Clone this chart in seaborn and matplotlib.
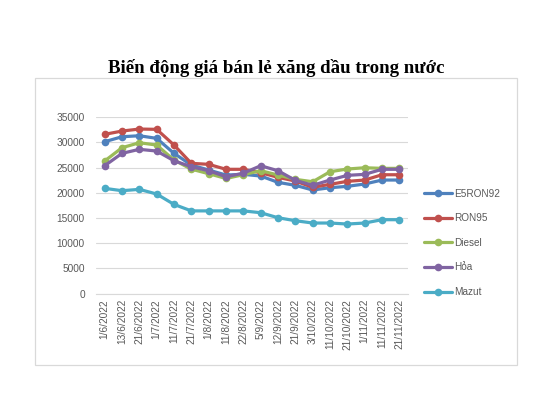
import pandas as pd
import seaborn as sns
import matplotlib.pyplot as plt
from matplotlib.patches import Rectangle

# Dữ liệu (đồng/lít)
ngay = ["1/6/2022", "13/6/2022", "21/6/2022", "1/7/2022", "11/7/2022", "21/7/2022",
        "1/8/2022", "11/8/2022", "22/8/2022", "5/9/2022", "12/9/2022", "21/9/2022",
        "3/10/2022", "11/10/2022", "21/10/2022", "1/11/2022", "11/11/2022", "21/11/2022"]

e5ron92 = [30150, 31140, 31340, 30820, 27840, 25520, 24530, 23530, 23670,
           23340, 22080, 21490, 20560, 21010, 21290, 21750, 22540, 22540]
ron95 = [31620, 32270, 32670, 32610, 29490, 25860, 25660, 24670, 24670,
         24000, 23080, 22340, 21090, 21690, 22280, 22540, 23590, 23590]
diesel = [26320, 28960, 29950, 29490, 26510, 24700, 23800, 22850, 23600,
          24400, 23530, 22680, 22200, 24190, 24730, 24980, 24860, 24860]
hoa = [25380, 27840, 28640, 28300, 26370, 25180, 24390, 23200, 23900,
       25380, 24390, 22480, 21490, 22540, 23470, 23670, 24670, 24670]
mazut = [20890, 20420, 20690, 19760, 17700, 16410, 16410, 16410, 16410,
         16050, 15050, 14460, 14000, 14000, 13800, 14000, 14660, 14660]

loai = ["E5RON92", "RON95", "Diesel", "Hỏa", "Mazut"]
mau = ["#4F81BD", "#C0504D", "#9BBB59", "#8064A2", "#4BACC6"]

# Bảng dữ liệu dạng dài cho seaborn
rows = []
for ten, gia in zip(loai, [e5ron92, ron95, diesel, hoa, mazut]):
    for i, g in enumerate(gia):
        rows.append({"x": i, "gia": g, "loai": ten})
df = pd.DataFrame(rows)

sns.set_style("white")
plt.rcParams["font.family"] = ["Liberation Sans", "DejaVu Sans"]

fig = plt.figure(figsize=(5.53, 3.97), dpi=100)
ax = fig.add_axes([0.1736, 0.2607, 0.5642, 0.4438])

# Khung biểu đồ
fig.patches.append(Rectangle((35 / 553, 1 - 365 / 397), (517 - 35) / 553, (365 - 78) / 397,
                             transform=fig.transFigure, fill=False,
                             edgecolor="#D9D9D9", linewidth=0.9, zorder=0))

sns.lineplot(data=df, x="x", y="gia", hue="loai", hue_order=loai, palette=mau,
             marker="o", markersize=5.5, markeredgewidth=0, linewidth=2.3,
             dashes=False, ax=ax)

ax.set_xlim(-0.5, len(ngay) - 0.5)
ax.set_ylim(0, 35000)
ax.set_yticks(range(0, 35001, 5000))
ax.set_xticks(range(len(ngay)))
ax.set_xticklabels(ngay, rotation=90)
ax.tick_params(axis="both", length=0, labelsize=7.3, colors="#595959")
ax.tick_params(axis="y", pad=8)
ax.tick_params(axis="x", pad=4)
ax.set_xlabel("")
ax.set_ylabel("")
ax.grid(axis="y", color="#D9D9D9", linewidth=0.8)
ax.set_axisbelow(True)
for s in ["top", "right", "left"]:
    ax.spines[s].set_visible(False)
ax.spines["bottom"].set_color("#D9D9D9")
ax.spines["bottom"].set_linewidth(0.8)

handles, labels = ax.get_legend_handles_labels()
ax.legend(handles, labels, loc="upper left", bbox_to_anchor=(420 / 553, 1 - 185 / 397),
          bbox_transform=fig.transFigure, frameon=False, fontsize=7.2,
          labelcolor="#595959", handlelength=2.8, handletextpad=0.2,
          labelspacing=1.45, borderaxespad=0)

fig.text(276 / 553, 1 - 68 / 397, "Biến động giá bán lẻ xăng dầu trong nước",
         family="Liberation Serif", fontweight="bold", fontsize=13.6,
         ha="center", va="center", color="black")

fig.savefig("out.png", dpi=100, facecolor="white")
